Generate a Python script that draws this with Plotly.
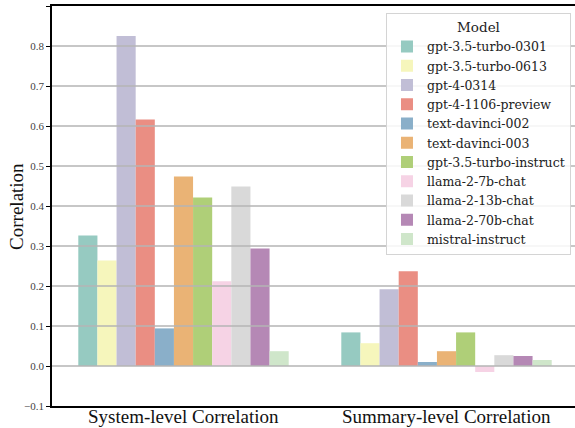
import colorsys
import plotly.graph_objects as go

categories = ["System-level Correlation", "Summary-level Correlation"]
models = ["gpt-3.5-turbo-0301", "gpt-3.5-turbo-0613", "gpt-4-0314", "gpt-4-1106-preview",
          "text-davinci-002", "text-davinci-003", "gpt-3.5-turbo-instruct",
          "llama-2-7b-chat", "llama-2-13b-chat", "llama-2-70b-chat", "mistral-instruct"]
system_level = [0.326, 0.264, 0.825, 0.616, 0.094, 0.474, 0.421, 0.212, 0.449, 0.294, 0.037]
summary_level = [0.084, 0.057, 0.192, 0.237, 0.010, 0.037, 0.084, -0.015, 0.027, 0.025, 0.015]
y_ticks = [-0.1, 0.0, 0.1, 0.2, 0.3, 0.4, 0.5, 0.6, 0.7, 0.8, 0.9]

base_colors = ["#8dd3c7", "#ffffb3", "#bebada", "#fb8072", "#80b1d3", "#fdb462",
               "#b3de69", "#fccde5", "#d9d9d9", "#bc80bd", "#ccebc5"]


def desat(hexc, f=0.75):
    r, g, b = (int(hexc[i:i + 2], 16) / 255 for i in (1, 3, 5))
    h, l, s = colorsys.rgb_to_hls(r, g, b)
    r, g, b = colorsys.hls_to_rgb(h, l, s * f)
    return "#%02x%02x%02x" % (round(r * 255), round(g * 255), round(b * 255))


colors = [desat(c) for c in base_colors]
FONT = "Liberation Serif"
LFONT = "DejaVu Serif"

fig = go.Figure()
for i, m in enumerate(models):
    fig.add_trace(go.Bar(
        x=[0, 1], y=[system_level[i], summary_level[i]], name=m,
        marker=dict(color=colors[i], line=dict(width=0)),
    ))

# horizontal grid lines drawn above the bars (as in the reference)
for v in y_ticks[1:-1]:
    fig.add_shape(type="line", xref="paper", yref="y", x0=0, x1=1, y0=v, y1=v,
                  line=dict(color="#b4b4b4", width=1.3), layer="above")

# category labels
for i, c in enumerate(categories):
    fig.add_annotation(x=i, xref="x", y=-0.027, yref="paper", text=c, showarrow=False,
                       xanchor="center", yanchor="middle",
                       font=dict(size=19, family=FONT, color="#111111"))

# y-axis title
fig.add_annotation(x=-0.069, xref="paper", y=0.5, yref="paper", text="Correlation",
                   showarrow=False, textangle=-90, xanchor="center", yanchor="middle",
                   font=dict(size=19, family=FONT, color="#111111"))

fig.update_layout(
    width=575, height=428,
    margin=dict(l=52, r=0, t=6, b=22, autoexpand=False),
    paper_bgcolor="white", plot_bgcolor="white",
    barmode="group", bargap=0.2, bargroupgap=0,
    font=dict(family=FONT, color="#222222"),
    legend=dict(
        title=dict(text="Model", side="top center", font=dict(size=13.5, family=LFONT, color="#222222")),
        x=0.6386, y=0.982, xanchor="left", yanchor="top",
        bgcolor="rgba(255,255,255,0.85)", bordercolor="#d4d4d4", borderwidth=1,
        font=dict(size=12.5, family=LFONT, color="#222222"), tracegroupgap=0, itemsizing="constant",
    ),
    showlegend=True,
)
fig.update_xaxes(
    range=[-0.5, 1.4886], showticklabels=False,
    showgrid=False, zeroline=False, showline=True, linecolor="black", linewidth=1.5,
    mirror=True, ticks="", automargin=False,
)
fig.update_yaxes(
    range=[-0.1, 0.9], tickvals=y_ticks, tickformat=".1f",
    tickfont=dict(size=11, family=FONT, color="#444444"),
    showgrid=False, zeroline=False, showline=True, linecolor="black", linewidth=1.5,
    mirror=False, ticks="outside", ticklen=4, tickcolor="black", automargin=False,
)

fig.write_html("out.html", config={"displayModeBar": False},
               post_script="document.body.style.margin='0px';")
